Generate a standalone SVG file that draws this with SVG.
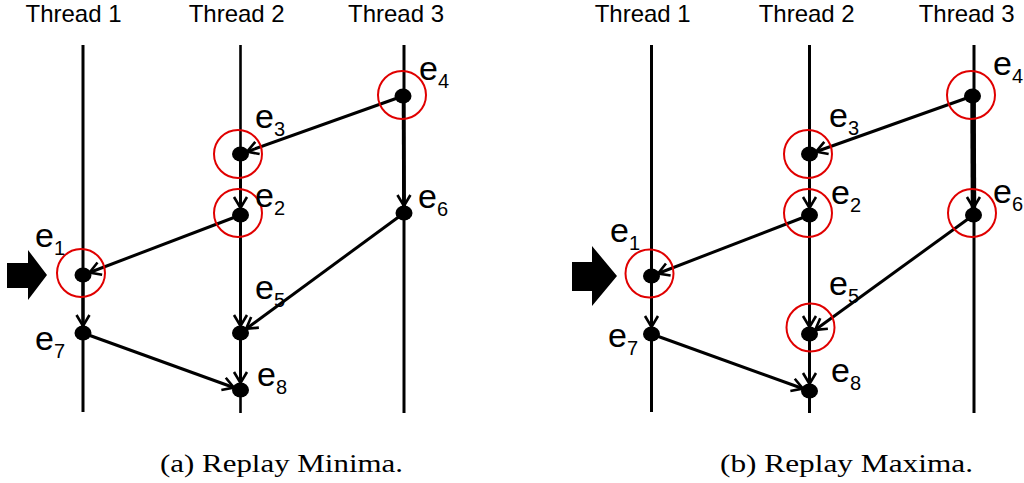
<svg xmlns="http://www.w3.org/2000/svg" width="1024" height="483" viewBox="0 0 1024 483">
<style>
.thr{font-family:"Liberation Sans",Arial,sans-serif;font-size:24px;fill:#000;text-anchor:middle}
.lbl{font-family:"Liberation Sans",Arial,sans-serif;font-size:34px;fill:#000}
.sub{font-size:20px}
.cap{font-family:"Liberation Serif","Times New Roman",serif;font-size:25.5px;fill:#000}
.tl{stroke:#000;stroke-width:3;fill:none}
.dot{fill:#000}
.ring{fill:none;stroke:#e00000;stroke-width:2}
.con{stroke:#000;stroke-width:3;fill:none;marker-end:url(#ah)}
</style>
<defs>
<marker id="ah" markerUnits="userSpaceOnUse" viewBox="-16 -10 26 20" markerWidth="26" markerHeight="20" refX="7" refY="0" orient="auto">
<path d="M-11,-6.5 L0,0 L-11,6.5" fill="none" stroke="#000" stroke-width="2.6"/>
</marker>
</defs>
<rect width="1024" height="483" fill="#fff"/>

<g id="panel-a-threads">
<text class="thr" x="73.5" y="22">Thread 1</text>
<text class="thr" x="236.7" y="22">Thread 2</text>
<text class="thr" x="396" y="22">Thread 3</text>
<line class="tl" x1="83" y1="45" x2="83" y2="412"/>
<line class="tl" x1="240.5" y1="45" x2="240.5" y2="413" style="stroke-width:2.6"/>
<line class="tl" x1="404" y1="45" x2="404" y2="413"/>
<line class="tl" x1="403.5" y1="96" x2="404" y2="213" style="stroke-width:3.6"/>
</g>
<g id="panel-b-threads">
<text class="thr" x="642.7" y="22">Thread 1</text>
<text class="thr" x="806.7" y="22">Thread 2</text>
<text class="thr" x="966.7" y="22">Thread 3</text>
<line class="tl" x1="651.5" y1="45" x2="651.5" y2="412"/>
<line class="tl" x1="809.5" y1="45" x2="809.5" y2="413"/>
<line class="tl" x1="974" y1="45" x2="974" y2="413"/>
<line class="tl" x1="973" y1="96" x2="973.5" y2="215" style="stroke-width:5.5"/>
</g>

<g id="connectors">
<line class="con" x1="403" y1="96" x2="240.5" y2="154"/>
<line class="con" x1="240.5" y1="154" x2="240.5" y2="215"/>
<line class="con" x1="240.5" y1="215" x2="83" y2="275"/>
<line class="con" x1="83" y1="275" x2="83" y2="333"/>
<line class="con" x1="403.5" y1="96" x2="404" y2="213"/>
<line class="con" x1="404" y1="213" x2="240.5" y2="333"/>
<line class="con" x1="240.5" y1="215" x2="240.5" y2="333"/>
<line class="con" x1="240.5" y1="333" x2="240.5" y2="390"/>
<line class="con" x1="83" y1="333" x2="240.5" y2="390"/>

<line class="con" x1="972.5" y1="96" x2="809.5" y2="154"/>
<line class="con" x1="809.5" y1="154" x2="809.5" y2="215"/>
<line class="con" x1="809.5" y1="215" x2="651.5" y2="276"/>
<line class="con" x1="651.5" y1="276" x2="651.5" y2="334"/>
<line class="con" x1="973" y1="96" x2="973.5" y2="215"/>
<line class="con" x1="973.5" y1="215" x2="809.5" y2="334"/>
<line class="con" x1="809.5" y1="215" x2="809.5" y2="334"/>
<line class="con" x1="809.5" y1="334" x2="809.5" y2="391"/>
<line class="con" x1="651.5" y1="334" x2="809.5" y2="391"/>
</g>

<g id="a-e1"><ellipse class="dot" cx="83" cy="275" rx="8.5" ry="7.5"/><circle class="ring" cx="81" cy="273" r="24"/><text class="lbl" x="35" y="247">e<tspan class="sub" dy="8">1</tspan></text></g>
<g id="a-e2"><ellipse class="dot" cx="240.5" cy="215" rx="8.5" ry="7.5"/><circle class="ring" cx="238" cy="213" r="24"/><text class="lbl" x="255" y="207">e<tspan class="sub" dy="8">2</tspan></text></g>
<g id="a-e3"><ellipse class="dot" cx="240.5" cy="154" rx="8.5" ry="7.5"/><circle class="ring" cx="238" cy="154" r="24"/><text class="lbl" x="255" y="128">e<tspan class="sub" dy="8">3</tspan></text></g>
<g id="a-e4"><ellipse class="dot" cx="403" cy="96" rx="8.5" ry="7.5"/><circle class="ring" cx="402" cy="95" r="24"/><text class="lbl" x="419" y="80">e<tspan class="sub" dy="8">4</tspan></text></g>
<g id="a-e5"><ellipse class="dot" cx="240.5" cy="333" rx="8.5" ry="7.5"/><text class="lbl" x="255" y="299">e<tspan class="sub" dy="8">5</tspan></text></g>
<g id="a-e6"><ellipse class="dot" cx="404" cy="213" rx="8.5" ry="7.5"/><text class="lbl" x="418" y="208">e<tspan class="sub" dy="8">6</tspan></text></g>
<g id="a-e7"><ellipse class="dot" cx="83" cy="333" rx="8.5" ry="7.5"/><text class="lbl" x="35" y="350">e<tspan class="sub" dy="8">7</tspan></text></g>
<g id="a-e8"><ellipse class="dot" cx="240.5" cy="390" rx="8.5" ry="7.5"/><text class="lbl" x="257" y="386">e<tspan class="sub" dy="8">8</tspan></text></g>

<g id="b-e1"><ellipse class="dot" cx="651.5" cy="276" rx="8.5" ry="7.5"/><circle class="ring" cx="649.5" cy="273.5" r="24"/><text class="lbl" x="610" y="242">e<tspan class="sub" dy="8">1</tspan></text></g>
<g id="b-e2"><ellipse class="dot" cx="809.5" cy="215" rx="8.5" ry="7.5"/><circle class="ring" cx="808" cy="213" r="24"/><text class="lbl" x="831" y="204">e<tspan class="sub" dy="8">2</tspan></text></g>
<g id="b-e3"><ellipse class="dot" cx="809.5" cy="154" rx="8.5" ry="7.5"/><circle class="ring" cx="808" cy="154" r="24"/><text class="lbl" x="829" y="127">e<tspan class="sub" dy="8">3</tspan></text></g>
<g id="b-e4"><ellipse class="dot" cx="972.5" cy="96" rx="8.5" ry="7.5"/><circle class="ring" cx="971" cy="95" r="24"/><text class="lbl" x="993" y="75">e<tspan class="sub" dy="8">4</tspan></text></g>
<g id="b-e5"><ellipse class="dot" cx="809.5" cy="334" rx="8.5" ry="7.5"/><circle class="ring" cx="810.5" cy="327.5" r="24"/><text class="lbl" x="829" y="295">e<tspan class="sub" dy="8">5</tspan></text></g>
<g id="b-e6"><ellipse class="dot" cx="973.5" cy="215" rx="8.5" ry="7.5"/><circle class="ring" cx="972" cy="213" r="24"/><text class="lbl" x="993" y="203">e<tspan class="sub" dy="8">6</tspan></text></g>
<g id="b-e7"><ellipse class="dot" cx="651.5" cy="334" rx="8.5" ry="7.5"/><text class="lbl" x="608" y="347">e<tspan class="sub" dy="8">7</tspan></text></g>
<g id="b-e8"><ellipse class="dot" cx="809.5" cy="391" rx="8.5" ry="7.5"/><text class="lbl" x="831" y="382">e<tspan class="sub" dy="8">8</tspan></text></g>

<g id="a-pointer"><polygon points="7,263 28,263 28,250 47,275 28,300 28,288 7,288" fill="#000"/></g>
<g id="b-pointer"><polygon points="572,262 592,262 592,246 617,276 592,306 592,291 572,291" fill="#000"/></g>

<g id="captions">
<text class="cap" x="160" y="472" textLength="243" lengthAdjust="spacingAndGlyphs">(a) Replay Minima.</text>
<text class="cap" x="720" y="472" textLength="253" lengthAdjust="spacingAndGlyphs">(b) Replay Maxima.</text>
</g>
</svg>
